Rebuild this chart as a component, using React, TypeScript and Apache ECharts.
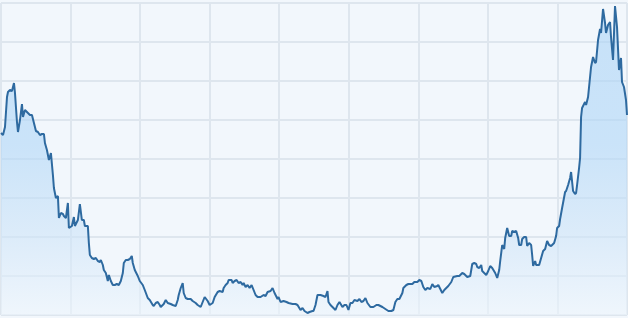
import React, { useEffect, useRef } from "react";
import * as echarts from "echarts";

// x positions (days) and values
const days: number[] = [
  0, 2, 4, 6, 7, 9, 11, 13, 14, 16, 17, 19, 21, 22, 24, 27, 29, 31, 33, 35, 37, 39, 41, 43, 44, 46, 48, 50, 52, 53,
  55, 57, 58, 60, 62, 63, 65, 67, 68, 71, 73, 74, 77, 79, 81, 83, 84, 87, 88, 89, 91, 93, 95, 97, 99, 100, 102, 103,
  105, 107, 108, 110, 112, 114, 116, 118, 120, 122, 123, 125, 127, 129, 131, 132, 134, 137, 139, 142, 144, 147, 149,
  152, 153, 155, 157, 159, 160, 163, 165, 167, 170, 172, 175, 177, 178, 180, 182, 183, 185, 187, 190, 192, 195, 197,
  200, 202, 204, 207, 209, 212, 214, 217, 219, 222, 223, 225, 227, 228, 231, 232, 234, 236, 238, 240, 242, 243, 245,
  247, 249, 251, 253, 255, 257, 260, 263, 265, 267, 270, 272, 274, 277, 278, 280, 283, 286, 288, 292, 295, 297, 300,
  302, 304, 307, 309, 312, 313, 315, 317, 320, 323, 325, 327, 328, 330, 332, 335, 337, 339, 342, 344, 346, 348, 350,
  352, 354, 357, 359, 361, 363, 365, 367, 370, 373, 376, 378, 382, 385, 388, 391, 393, 395, 397, 399, 402, 403, 406,
  408, 412, 414, 417, 419, 421, 423, 425, 427, 430, 432, 434, 437, 438, 440, 442, 444, 446, 448, 451, 453, 457, 459,
  462, 464, 467, 470, 472, 474, 476, 477, 479, 481, 482, 484, 486, 488, 490, 492, 495, 497, 499, 500, 502, 504, 505,
  507, 509, 511, 512, 514, 516, 518, 519, 521, 522, 524, 526, 527, 529, 531, 532, 533, 535, 536, 539, 541, 543, 545,
  547, 549, 551, 554, 556, 557, 559, 560, 562, 565, 566, 568, 570, 571, 573, 575, 576, 577, 579, 580, 581, 582, 585,
  586, 588, 590, 591, 593, 595, 596, 598, 600, 601, 603, 605, 606, 608, 610, 611, 613, 615, 617, 619, 621, 622, 624,
  626, 627,
];

const values: number[] = [
  182, 180, 188, 218, 223, 225, 224, 232, 222, 193, 183, 195, 211, 198, 205, 202, 200, 200, 192, 184, 183, 180, 181,
  181, 172, 165, 155, 162, 140, 127, 117, 119, 97, 102, 101, 99, 97, 112, 87, 89, 98, 89, 95, 111, 95, 95, 89, 89, 72,
  60, 57, 56, 57, 54, 53, 55, 50, 45, 42, 34, 40, 34, 30, 30, 31, 30, 34, 42, 52, 55, 55, 56, 59, 52, 45, 39, 34, 30,
  25, 17, 15, 10, 9, 12, 13, 10, 8, 11, 15, 12, 11, 10, 9, 15, 20, 27, 32, 22, 17, 16, 16, 14, 12, 10, 8, 13, 18, 14,
  10, 12, 18, 23, 24, 23, 27, 30, 32, 35, 35, 32, 34, 35, 32, 33, 30, 32, 28, 30, 27, 30, 25, 20, 18, 18, 20, 19, 23,
  24, 27, 22, 16, 18, 13, 14, 13, 12, 11, 11, 10, 5, 7, 4, 2, 3, 4, 4, 10, 20, 20, 19, 18, 24, 13, 10, 8, 5, 10, 13, 8,
  10, 10, 5, 12, 12, 15, 14, 16, 13, 14, 17, 12, 8, 8, 10, 10, 8, 6, 4, 4, 5, 13, 16, 16, 22, 27, 30, 31, 31, 33, 33,
  35, 34, 28, 25, 27, 26, 31, 28, 29, 30, 26, 22, 25, 27, 29, 33, 38, 39, 39, 42, 41, 38, 39, 51, 52, 51, 48, 47, 50,
  44, 42, 40, 44, 49, 47, 42, 37, 45, 54, 70, 66, 77, 87, 79, 79, 84, 83, 84, 77, 70, 70, 76, 78, 78, 69, 72, 70, 60,
  49, 54, 50, 50, 57, 64, 66, 74, 70, 69, 72, 79, 87, 89, 96, 107, 123, 124, 130, 137, 143, 124, 121, 122, 130, 147,
  157, 198, 207, 213, 210, 218, 238, 248, 258, 252, 253, 275, 286, 282, 306, 292, 282, 290, 293, 278, 255, 309, 288,
  245, 257, 233, 228, 215, 200,
];

const X_MAX = 627;
const X_SPLITS = 9;
const Y_MAX = 312;
const Y_STEP = 39;

export default function App() {
  const ref = useRef<HTMLDivElement>(null);
  useEffect(() => {
    if (!ref.current) return;
    const chart = echarts.init(ref.current, null, { renderer: "svg" });
    const data = days.map((d, i) => [d, values[i]]);
    chart.setOption({
      animation: false,
      backgroundColor: "#f2f7fc",
      grid: { left: 1, right: 1, top: 3, bottom: 3, containLabel: false },
      xAxis: {
        type: "value",
        min: 0,
        max: X_MAX,
        interval: X_MAX / X_SPLITS,
        axisLine: { show: false },
        axisTick: { show: false },
        axisLabel: { show: false },
        splitLine: { show: true, lineStyle: { color: "#dee6ee", width: 2 } },
      },
      yAxis: {
        type: "value",
        min: 0,
        max: Y_MAX,
        interval: Y_STEP,
        axisLine: { show: false },
        axisTick: { show: false },
        axisLabel: { show: false },
        splitLine: { show: true, lineStyle: { color: "#dee6ee", width: 2 } },
      },
      series: [
        {
          type: "line",
          data,
          symbol: "none",
          lineStyle: { color: "#2e6aa0", width: 2 },
          areaStyle: {
            color: new echarts.graphic.LinearGradient(0, 0, 0, 1, [
              { offset: 0, color: "rgba(170,211,246,0.85)" },
              { offset: 0.45, color: "rgba(175,214,247,0.85)" },
              { offset: 0.75, color: "rgba(206,228,248,0.85)" },
              { offset: 1, color: "rgba(237,245,252,0.85)" },
            ]),
          },
        },
      ],
    });
    return () => chart.dispose();
  }, []);
  return (
    <div
      ref={ref}
      style={{ position: "fixed", left: 0, top: 0, width: 628, height: 318 }}
    />
  );
}
